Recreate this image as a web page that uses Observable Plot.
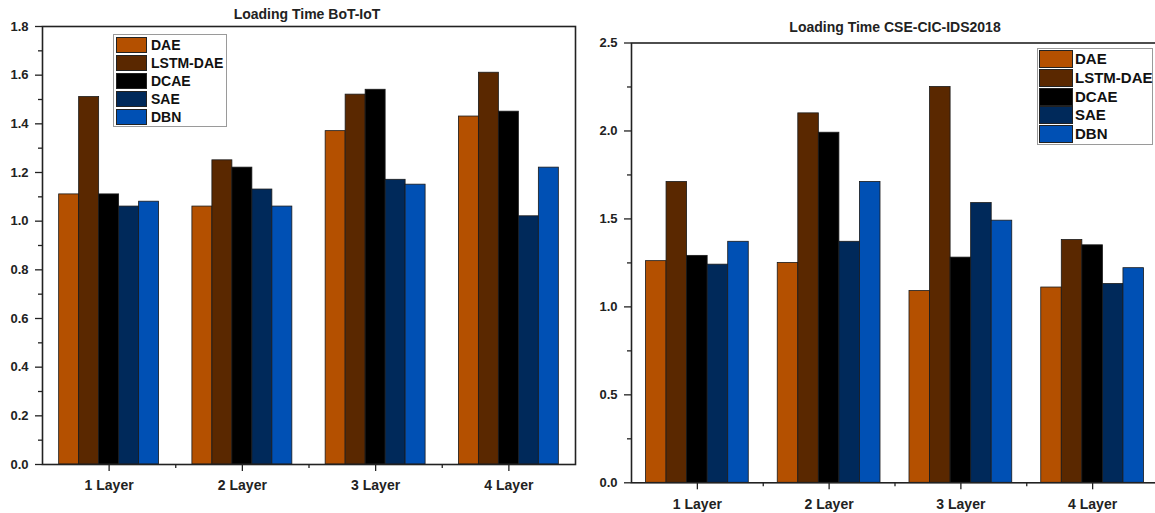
<!DOCTYPE html>
<html>
<head>
<meta charset="utf-8">
<script src="https://cdn.jsdelivr.net/npm/d3@7"></script>
<script src="https://cdn.jsdelivr.net/npm/@observablehq/plot@0.6"></script>
<style>
  html, body { margin: 0; padding: 0; background: #fff; overflow: hidden; width: 1155px; height: 513px; }
  body { position: relative; font-family: "Liberation Sans", Arial, sans-serif; }
  .chart { position: absolute; top: 0; }
  .title { position: absolute; font-weight: bold; font-size: 14px; line-height: 14px; color: #222; white-space: nowrap; transform: translateX(-50%); }
  .legend { position: absolute; border: 1px solid #9a9a9a; box-sizing: border-box; background: #fff; }
  .legend .sw { position: absolute; box-sizing: border-box; border: 1px solid #222; }
  .legend .lb { position: absolute; font-weight: bold; color: #111; white-space: nowrap; }
</style>
</head>
<body>
<script>
// ---- data ----
const layers = ["1 Layer", "2 Layer", "3 Layer", "4 Layer"];
const models = ["DAE", "LSTM-DAE", "DCAE", "SAE", "DBN"];
const colors = ["#B45000", "#5A2800", "#000000", "#00295A", "#0050B4"];

// Loading Time BoT-IoT (per model, across 1..4 layers)
const botDAE  = [1.11, 1.06, 1.37, 1.43];
const botLSTM = [1.51, 1.25, 1.52, 1.61];
const botDCAE = [1.11, 1.22, 1.54, 1.45];
const botSAE  = [1.06, 1.13, 1.17, 1.02];
const botDBN  = [1.08, 1.06, 1.15, 1.22];

// Loading Time CSE-CIC-IDS2018
const cseDAE  = [1.26, 1.25, 1.09, 1.11];
const cseLSTM = [1.71, 2.10, 2.25, 1.38];
const cseDCAE = [1.29, 1.99, 1.28, 1.35];
const cseSAE  = [1.24, 1.37, 1.59, 1.13];
const cseDBN  = [1.37, 1.71, 1.49, 1.22];

// tick values
const botYTicks = [0, 0.2, 0.4, 0.6, 0.8, 1.0, 1.2, 1.4, 1.6, 1.8];
const botYMinor = [0.1, 0.3, 0.5, 0.7, 0.9, 1.1, 1.3, 1.5, 1.7];
const cseYTicks = [0, 0.5, 1.0, 1.5, 2.0, 2.5];
const cseYMinor = [0.25, 0.75, 1.25, 1.75, 2.25];
const xTicks = [1, 2, 3, 4];
const xMinor = [1.5, 2.5, 3.5];

function toRows(series, barW) {
  const rows = [];
  series.forEach((vals, mi) => {
    vals.forEach((v, li) => {
      const x1 = (li + 1) + (mi - 2.5) * barW;
      rows.push({model: models[mi], layer: layers[li], x1, x2: x1 + barW, value: v});
    });
  });
  return rows;
}

function makeChart(cfg) {
  const rows = toRows(cfg.series, cfg.barW);
  const plot = Plot.plot({
    width: cfg.width, height: cfg.height,
    marginLeft: cfg.ml, marginRight: cfg.mr, marginTop: cfg.mt, marginBottom: cfg.mb,
    style: {fontFamily: '"Liberation Sans", Arial, sans-serif', fontWeight: "bold", color: "#222", background: "transparent", overflow: "visible"},
    x: {type: "linear", domain: [0.5, 4.5]},
    y: {domain: cfg.yDomain},
    color: {domain: models, range: colors},
    marks: [
      Plot.rectY(rows, {x1: "x1", x2: "x2", y: "value", fill: "model", stroke: "#1a1a1a", strokeWidth: 0.8}),
      Plot.frame({stroke: "#222", strokeWidth: 1.6}),
      Plot.axisY({ticks: cfg.yTicks, tickFormat: d3.format(".1f"), tickSize: 7, tickPadding: 7, fontSize: 13, strokeWidth: 1.3, label: null}),
      Plot.axisY({ticks: cfg.yMinor, tickFormat: () => "", tickSize: 4, strokeWidth: 1.3, label: null}),
      Plot.axisX({ticks: xTicks, tickFormat: d => layers[d - 1], tickSize: 7, tickPadding: 9, fontSize: 14, strokeWidth: 1.3, label: null}),
      Plot.axisX({ticks: xMinor, tickFormat: () => "", tickSize: 4, strokeWidth: 1.3, label: null})
    ]
  });
  plot.classList.add("chart");
  plot.style.left = cfg.left + "px";
  document.body.appendChild(plot);

  const t = document.createElement("div");
  t.className = "title";
  t.textContent = cfg.title;
  t.style.left = cfg.titleX + "px";
  t.style.top = cfg.titleY + "px";
  document.body.appendChild(t);

  const lg = d3.select(document.body).append("div").attr("class", "legend")
    .style("left", cfg.lg.x + "px").style("top", cfg.lg.y + "px")
    .style("width", cfg.lg.w + "px").style("height", cfg.lg.h + "px");
  models.forEach((m, i) => {
    lg.append("div").attr("class", "sw")
      .style("left", cfg.lg.sx + "px").style("top", (cfg.lg.sy + i * cfg.lg.pitch) + "px")
      .style("width", cfg.lg.sw + "px").style("height", cfg.lg.sh + "px")
      .style("background", colors[i]);
    lg.append("div").attr("class", "lb").text(m)
      .style("left", cfg.lg.tx + "px").style("top", (cfg.lg.sy + i * cfg.lg.pitch) + "px")
      .style("font-size", cfg.lg.fs + "px").style("line-height", cfg.lg.sh + "px");
  });
}

makeChart({
  title: "Loading Time BoT-IoT", titleX: 307, titleY: 6.5,
  series: [botDAE, botLSTM, botDCAE, botSAE, botDBN], barW: 0.15,
  yDomain: [0, 1.8], yTicks: botYTicks, yMinor: botYMinor,
  left: 0, width: 580, height: 500, ml: 42, mr: 5, mt: 26, mb: 36,
  lg: {x: 113, y: 34, w: 114, h: 93, sx: 2, sy: 2, sw: 31, sh: 16, pitch: 18, tx: 37, fs: 14}
});

makeChart({
  title: "Loading Time CSE-CIC-IDS2018", titleX: 895, titleY: 19.5,
  series: [cseDAE, cseLSTM, cseDCAE, cseSAE, cseDBN], barW: 0.156,
  yDomain: [0, 2.5], yTicks: cseYTicks, yMinor: cseYMinor,
  left: 580, width: 580, height: 513, ml: 51, mr: 2, mt: 42.5, mb: 30.7,
  lg: {x: 1037, y: 48, w: 116, h: 97, sx: 1, sy: 1, sw: 34, sh: 18, pitch: 18.8, tx: 37, fs: 15}
});
</script>
</body>
</html>
